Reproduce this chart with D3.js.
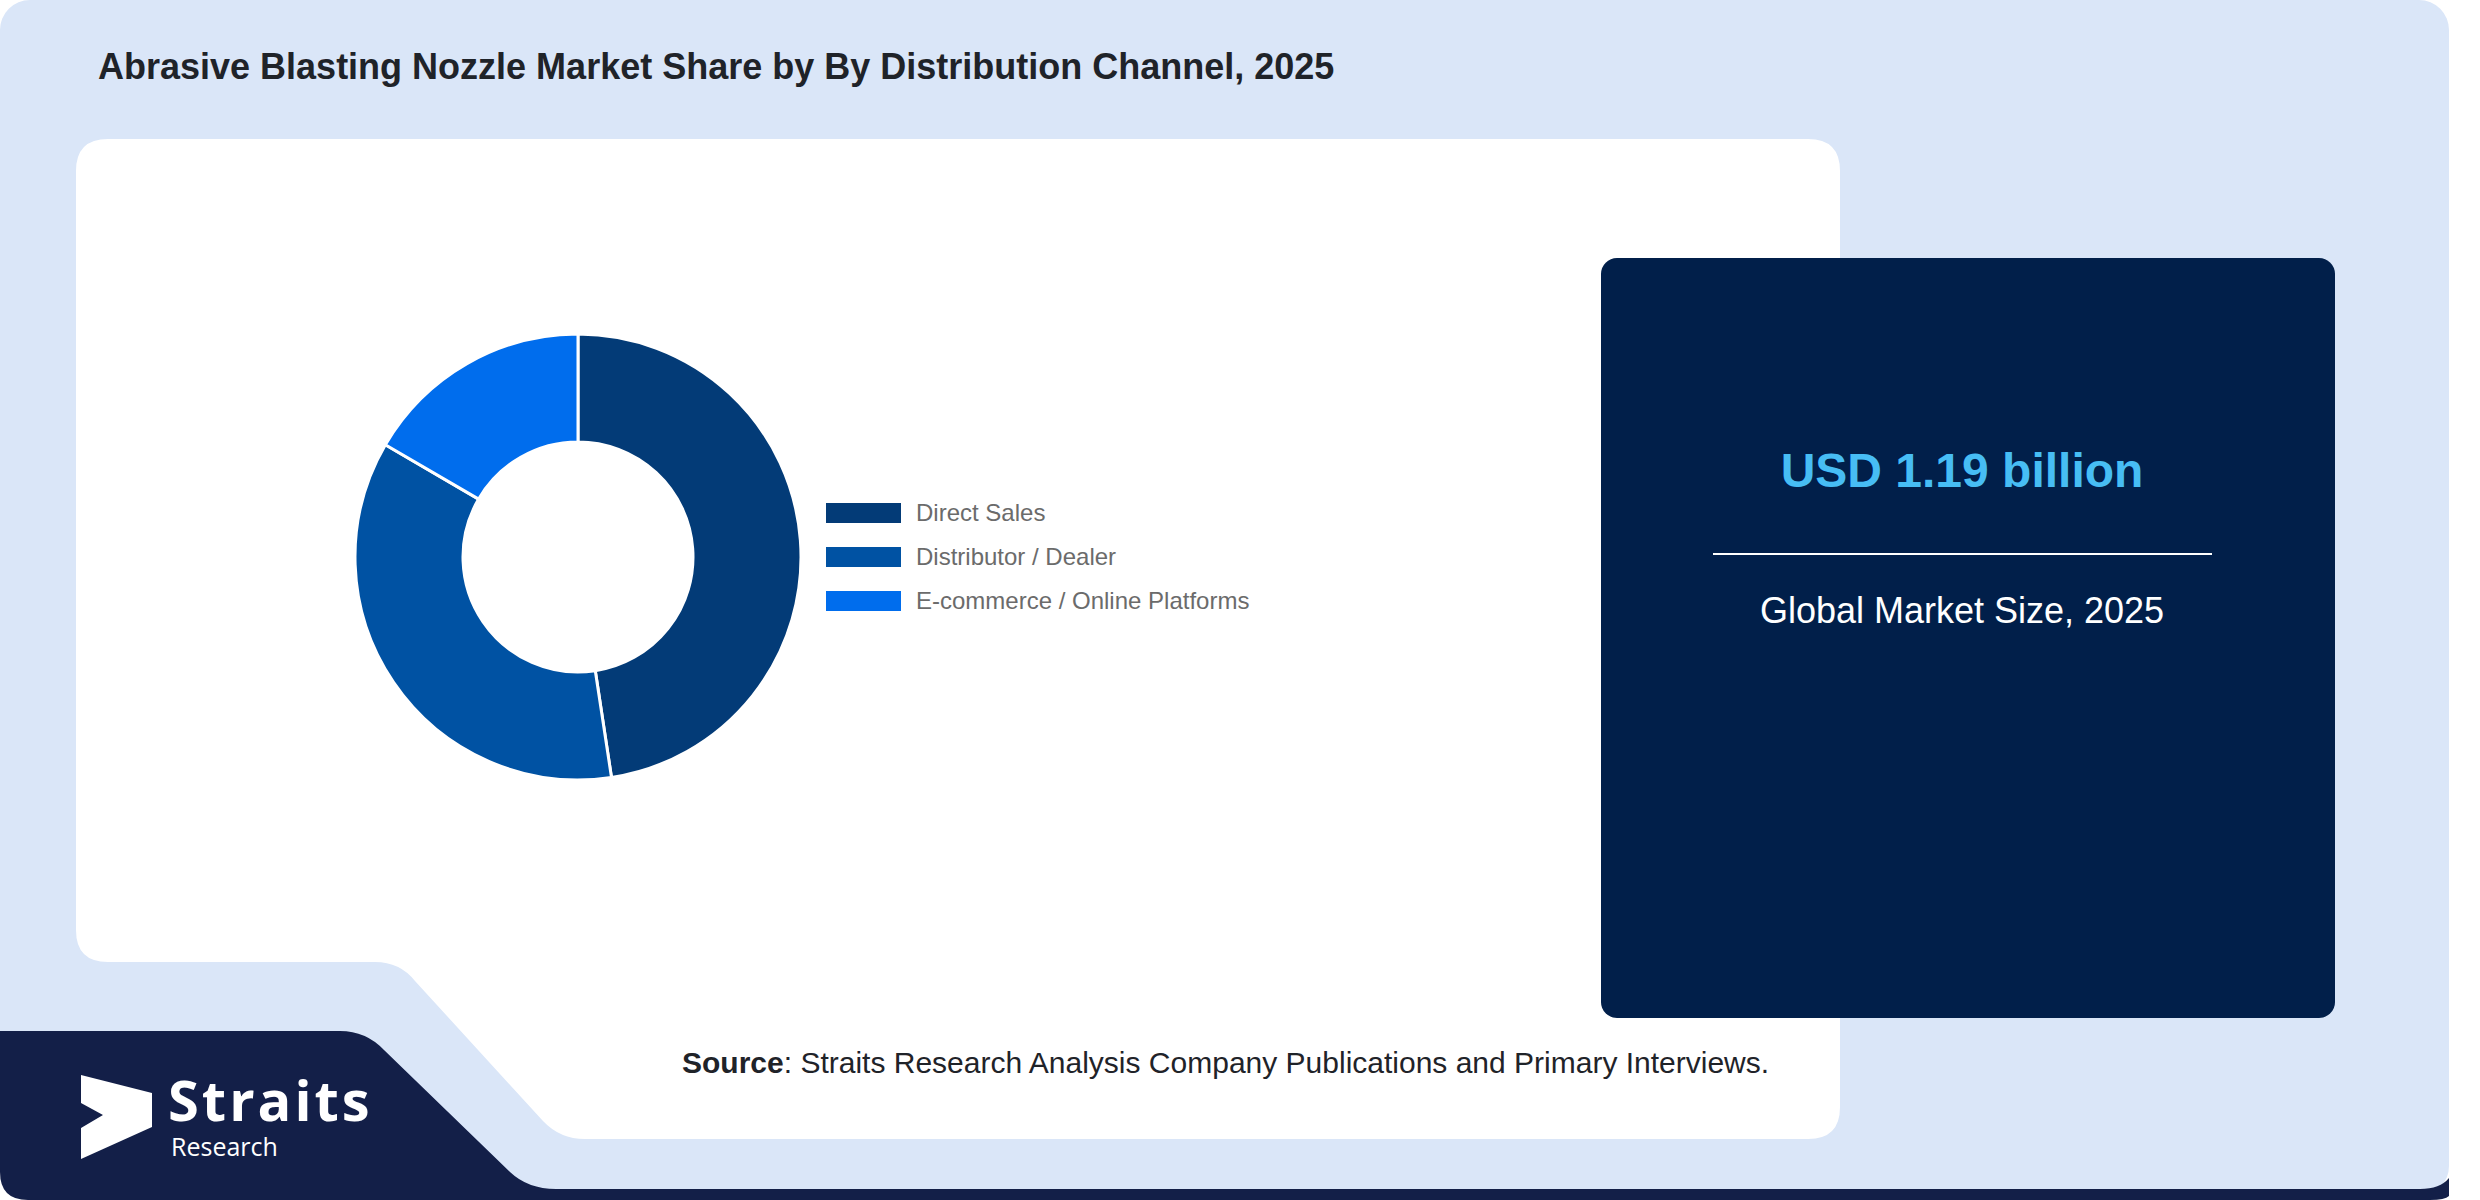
<!DOCTYPE html>
<html>
<head>
<meta charset="utf-8">
<script src="https://cdn.jsdelivr.net/npm/d3@7"></script>
<style>
  body { margin: 0; background: #ffffff; }
  svg { display: block; }
</style>
</head>
<body>
<div id="chart"></div>
<script>
// chart values
const channels = ["Direct Sales", "Distributor / Dealer", "E-commerce / Online Platforms"];
const shares = [47.6, 35.8, 16.6];
const sliceColors = ["#033b77", "#0052a3", "#006ded"];

const titleText = "Abrasive Blasting Nozzle Market Share by By Distribution Channel, 2025";
const marketValue = "USD 1.19 billion";
const marketLabel = "Global Market Size, 2025";

const W = 2480, H = 1200;

const svg = d3.select("#chart")
    .append("svg")
    .attr("width", W)
    .attr("height", H);

// backdrop: light blue card
svg.append("rect")
    .attr("x", 0).attr("y", 0)
    .attr("width", 2449).attr("height", 1196)
    .attr("rx", 30)
    .attr("fill", "#dae6f8");

// dark navy band bottom-left (logo area) running along the bottom edge
svg.append("path")
    .attr("d", "M0,1031 H340 Q366,1031 384,1050 L510,1172 Q528,1189 556,1189 H2420 Q2440,1189 2449,1178 V1196 Q2445,1200 2430,1200 H28 Q0,1200 0,1172 Z")
    .attr("fill", "#131f48");

// white chart panel with cut bottom-left corner
svg.append("path")
    .attr("d", "M108,139 H1808 Q1840,139 1840,171 V1107 Q1840,1139 1808,1139 H585 Q560,1139 543,1121 L415,981 Q400,962 375,962 H108 Q76,962 76,930 V171 Q76,139 108,139 Z")
    .attr("fill", "#ffffff");

// title
svg.append("text")
    .attr("x", 98).attr("y", 79)
    .attr("font-family", "Liberation Sans, Arial, sans-serif")
    .attr("font-weight", "bold")
    .attr("font-size", 36)
    .attr("fill", "#1f2329")
    .text(titleText);

// donut
const cx = 578, cy = 557, rOuter = 223, rInner = 115;

const pie = d3.pie()
    .sort(null)
    .value(d => d.value);

const arc = d3.arc()
    .innerRadius(rInner)
    .outerRadius(rOuter);

const pieInput = channels.map((c, i) => ({name: c, value: shares[i]}));

const color = d3.scaleOrdinal()
    .domain(channels)
    .range(sliceColors);

const donut = svg.append("g")
    .attr("class", "donut")
    .attr("transform", `translate(${cx},${cy})`);

donut.selectAll(".arc")
    .data(pie(pieInput))
    .enter()
    .append("path")
    .attr("class", "arc")
    .attr("d", arc)
    .attr("fill", d => color(d.data.name))
    .attr("stroke", "#ffffff")
    .attr("stroke-width", 3);

// legend
const legendY = d3.scaleBand()
    .domain(channels)
    .range([491, 623])
    .paddingInner(0);

const legend = svg.append("g").attr("class", "legend");

const items = legend.selectAll(".item")
    .data(channels)
    .enter()
    .append("g")
    .attr("class", "item")
    .attr("transform", d => `translate(826,${legendY(d) + legendY.bandwidth() / 2})`);

items.append("rect")
    .attr("x", 0).attr("y", -10)
    .attr("width", 75).attr("height", 20)
    .attr("fill", d => color(d));

items.append("text")
    .attr("x", 90).attr("y", 8)
    .attr("font-family", "Liberation Sans, Arial, sans-serif")
    .attr("font-size", 24)
    .attr("fill", "#6b6b6b")
    .text(d => d);

// market size box
svg.append("rect")
    .attr("x", 1601).attr("y", 258)
    .attr("width", 734).attr("height", 760)
    .attr("rx", 16)
    .attr("fill", "#011f4a");

const boxCx = 1962;

svg.append("text")
    .attr("x", boxCx).attr("y", 487)
    .attr("text-anchor", "middle")
    .attr("font-family", "Liberation Sans, Arial, sans-serif")
    .attr("font-weight", "bold")
    .attr("font-size", 48)
    .attr("fill", "#47bdf4")
    .text(marketValue);

svg.append("line")
    .attr("x1", 1713).attr("x2", 2212)
    .attr("y1", 554).attr("y2", 554)
    .attr("stroke", "#ffffff")
    .attr("stroke-width", 2);

svg.append("text")
    .attr("x", boxCx).attr("y", 623)
    .attr("text-anchor", "middle")
    .attr("font-family", "Liberation Sans, Arial, sans-serif")
    .attr("font-size", 36)
    .attr("fill", "#ffffff")
    .text(marketLabel);

// source line
const source = svg.append("text")
    .attr("x", 682).attr("y", 1073)
    .attr("font-family", "Liberation Sans, Arial, sans-serif")
    .attr("font-size", 30)
    .attr("fill", "#1f2329");
source.append("tspan").attr("font-weight", "bold").text("Source");
source.append("tspan").text(": Straits Research Analysis Company Publications and Primary Interviews.");

// logo
svg.append("polygon")
    .attr("points", "81,1075 152,1093 152,1127 81,1159 81,1128 103,1115 81,1103")
    .attr("fill", "#ffffff");

svg.append("text")
    .attr("x", 168).attr("y", 1121)
    .attr("font-family", "Open Sans, sans-serif")
    .attr("font-weight", 700)
    .attr("font-size", 56)
    .attr("letter-spacing", 3)
    .attr("fill", "#ffffff")
    .text("Straits");

svg.append("text")
    .attr("x", 171).attr("y", 1156)
    .attr("font-family", "Open Sans, sans-serif")
    .attr("font-size", 25)
    .attr("fill", "#ffffff")
    .text("Research");
</script>
</body>
</html>
